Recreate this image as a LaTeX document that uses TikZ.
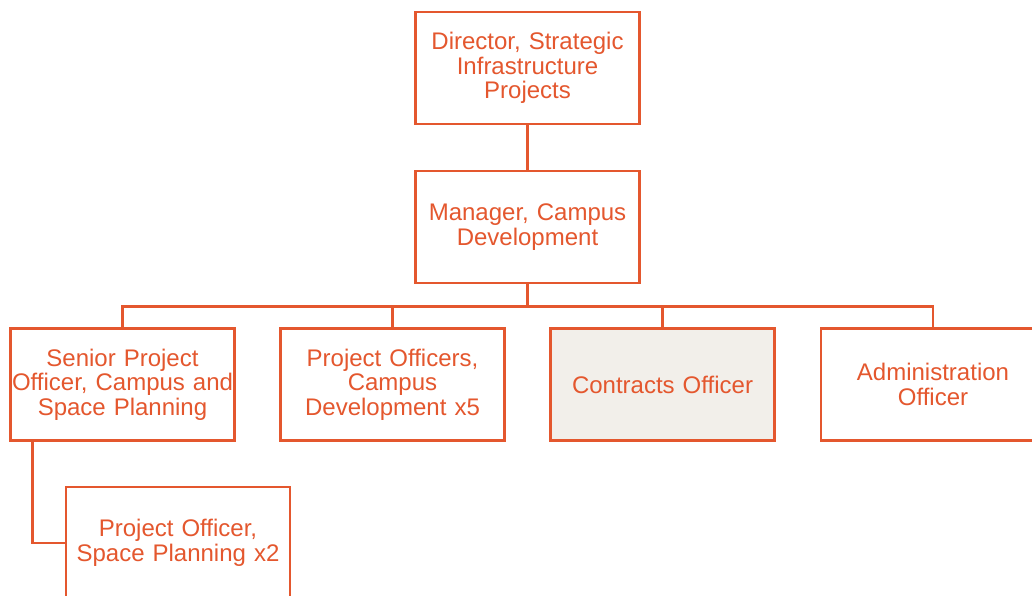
\documentclass[tikz,border=0pt]{standalone}
\usepackage{fontspec}
\setmainfont{Liberation Sans}
\usepackage{tikz}

\definecolor{rust}{HTML}{E4572E}
\definecolor{sand}{HTML}{F2EFEA}

\tikzset{
  post/.style={draw=rust, line width=2.5pt, fill=white, text=rust,
    minimum width=224pt, minimum height=112pt, text width=224pt,
    inner sep=0pt, align=center, font=\fontsize{24}{24.5}\selectfont},
  vacant/.style={post, fill=sand},
  link/.style={draw=rust, line width=2.5pt}
}

\begin{document}
\begin{tikzpicture}[x=1pt, y=-1pt]
  \clip (0,0) rectangle (1032,596);
  \fill[white] (0,0) rectangle (1032,596);
  % top of the unit
  \node[post] (dir) at (527.5,68) {Director, Strategic\\Infrastructure\\Projects};
  \node[post] (mgr) at (527.5,227) {Manager, Campus\\Development};
  % team row
  \node[post] (spo) at (122.5,384.5) {Senior Project\\Officer, Campus and\\Space Planning};
  \node[post] (poc) at (392.5,384.5) {Project Officers,\\Campus\\Development x5};
  \node[vacant] (con) at (662.5,384.5) {Contracts Officer};
  \node[post] (adm) at (933,384.5) {Administration\\Officer};
  \node[post] (pos) at (178,543) {Project Officer,\\Space Planning x2};
  % reporting lines
  \draw[link] (dir.south) -- (mgr.north);
  \draw[link] (mgr.south) -- ++(0,22) coordinate (bus);
  \draw[link] (spo.north) |- (bus) -| (adm.north);
  \draw[link] (poc.north) -- (poc.north |- bus);
  \draw[link] (con.north) -- (con.north |- bus);
  \draw[link] ([xshift=23pt]spo.south west) coordinate (tap) |- (pos.west);
\end{tikzpicture}
\end{document}
